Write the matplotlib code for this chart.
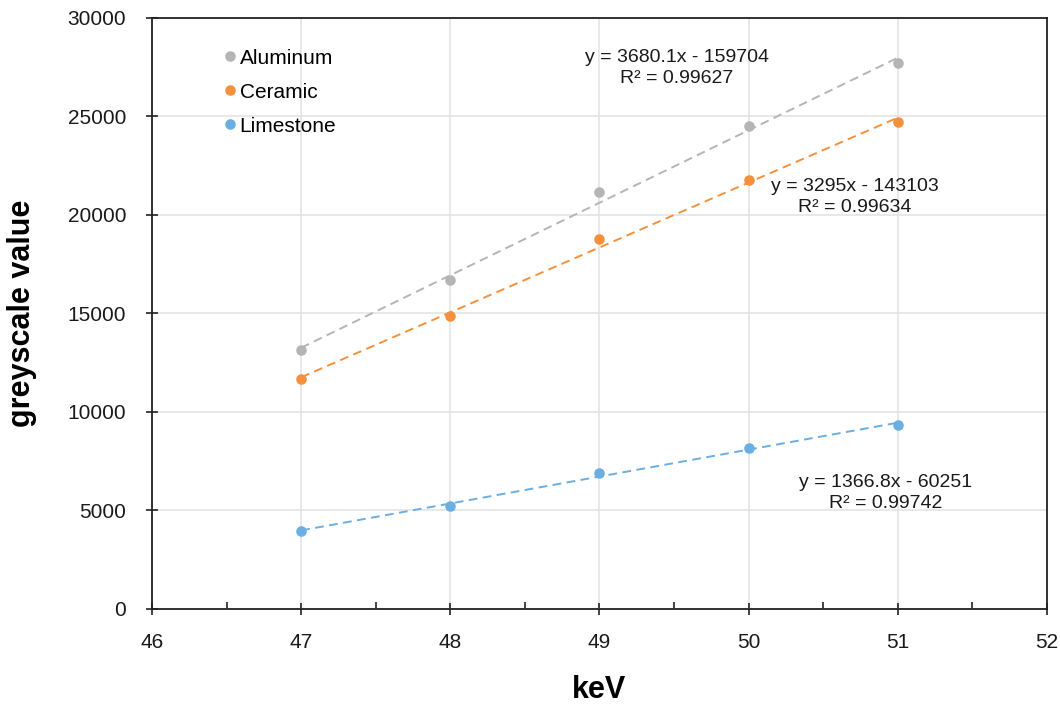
import matplotlib
matplotlib.use("Agg")
import matplotlib.pyplot as plt
import numpy as np
from matplotlib.ticker import MultipleLocator

plt.rcParams['font.family'] = ['Liberation Sans', 'DejaVu Sans']

kev = [47, 48, 49, 50, 51]
series_names = ["Aluminum", "Ceramic", "Limestone"]
aluminum = [13150, 16700, 21150, 24500, 27700]
ceramic = [11650, 14850, 18800, 21800, 24700]
limestone = [3980, 5230, 6880, 8150, 9360]
slopes = [3680.1, 3295, 1366.8]
intercepts = [-159704, -143103, -60251]
r2_values = [0.99627, 0.99634, 0.99742]
equations = ["y = 3680.1x - 159704", "y = 3295x - 143103", "y = 1366.8x - 60251"]
label_pos = [(49.52, 27440), (50.71, 20914), (50.92, 5890)]
colors = ["#b5b5b5", "#f5903c", "#6aaee2"]

fig = plt.figure(figsize=(10.6, 7.05), dpi=100)
ax = fig.add_axes([0.1434, 0.1362, 0.8443, 0.8383])

data = [aluminum, ceramic, limestone]
x_arr = np.array(kev, dtype=float)
for name, ys, m, b, c in zip(series_names, data, slopes, intercepts, colors):
    ax.plot(x_arr, m * x_arr + b, linestyle=(0, (4.5, 2.8)), color=c, lw=1.4, zorder=2)
    ax.plot(kev, ys, 'o', color=c, markersize=7.6, markeredgewidth=0, label=name, zorder=3)

for eq, r2, (px, py) in zip(equations, r2_values, label_pos):
    ax.text(px, py, f"{eq}\nR² = {r2:.5f}", ha='center', va='center',
            fontsize=14, linespacing=1.3, color='#1a1a1a', zorder=4)

ax.set_xlim(46, 52)
ax.set_ylim(0, 30000)
ax.xaxis.set_major_locator(MultipleLocator(1))
ax.xaxis.set_minor_locator(MultipleLocator(0.5))
ax.yaxis.set_major_locator(MultipleLocator(5000))
ax.grid(True, which='major', color='#e2e2e2', lw=1.1, zorder=0)
ax.set_axisbelow(True)

for sp in ax.spines.values():
    sp.set_color('#222222')
    sp.set_linewidth(1.3)

ax.tick_params(axis='both', which='major', direction='inout', length=9, width=1.2,
               color='#222222', labelsize=15, labelcolor='#1a1a1a')
ax.tick_params(axis='x', which='major', pad=13)
ax.tick_params(axis='y', which='major', pad=14)
ax.tick_params(axis='x', which='minor', direction='in', length=5, width=1.2, color='#222222')

ax.set_xlabel("keV", fontsize=22, fontweight='bold', labelpad=16)
ax.set_ylabel("greyscale value", fontsize=22, fontweight='bold', labelpad=22)

leg = ax.legend(loc='upper left', bbox_to_anchor=(0.071, 0.962), frameon=False,
                fontsize=15, handlelength=0.6, handletextpad=0.15, labelspacing=0.72,
                borderaxespad=0)

fig.savefig("out.png", dpi=100)
